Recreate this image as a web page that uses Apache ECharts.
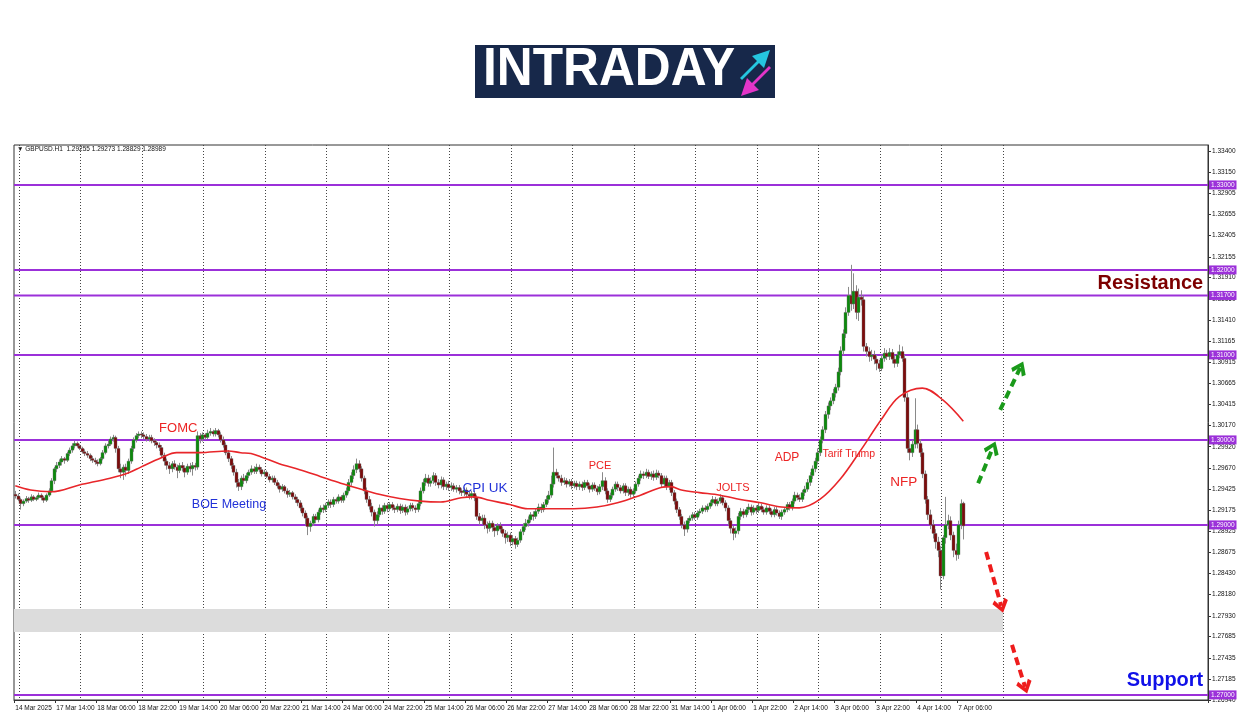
<!DOCTYPE html>
<html><head><meta charset="utf-8">
<script src="https://cdn.jsdelivr.net/npm/echarts@6/dist/echarts.min.js"></script>
<style>html,body{margin:0;padding:0;background:#fff}#c{width:1250px;height:716px}</style>
</head><body><div id="c"></div>
<script>
// Prices in pips: value v means 1 + v/10000 (e.g. 2934 -> 1.2934)
const opens = [
2936,2934,2930,2925,2928,2931,2929,2933,2930,2932,
2935,2932,2929,2935,2940,2952,2966,2970,2974,2978,
2976,2984,2988,2993,2996,2993,2990,2986,2984,2982,
2978,2976,2974,2972,2978,2985,2993,2995,3001,3003,
2990,2966,2962,2968,2964,2975,2990,3000,3005,3007,
3006,3004,3001,3003,2999,2997,2994,2991,2982,2975,
2970,2966,2972,2968,2964,2970,2967,2962,2969,2966,
2970,2968,3005,3001,3006,3003,3008,3010,3007,3011,
3006,3000,2994,2985,2978,2970,2962,2950,2945,2955,
2952,2958,2962,2966,2963,2968,2965,2960,2962,2957,
2953,2955,2950,2946,2942,2945,2940,2936,2938,2933,
2930,2926,2920,2914,2908,2898,2902,2910,2906,2915,
2920,2918,2923,2927,2924,2930,2928,2933,2929,2935,
2940,2950,2958,2965,2972,2966,2955,2940,2930,2922,
2915,2905,2912,2920,2916,2923,2919,2924,2920,2918,
2922,2917,2921,2915,2919,2923,2920,2918,2925,2940,
2950,2955,2949,2952,2958,2950,2947,2953,2945,2948,
2944,2946,2942,2944,2940,2938,2941,2936,2934,2937,
2932,2910,2905,2908,2900,2896,2902,2897,2893,2899,
2895,2890,2885,2888,2880,2884,2877,2882,2892,2898,
2902,2906,2912,2910,2916,2921,2918,2924,2930,2935,
2948,2962,2958,2955,2950,2952,2948,2951,2946,2949,
2945,2948,2944,2950,2946,2942,2947,2943,2939,2945,
2952,2940,2930,2935,2942,2948,2944,2940,2946,2938,
2942,2936,2940,2948,2955,2960,2958,2962,2957,2960,
2956,2961,2958,2948,2955,2945,2950,2938,2928,2918,
2910,2900,2895,2905,2908,2912,2909,2914,2916,2920,
2918,2922,2926,2930,2925,2928,2932,2926,2920,2905,
2896,2890,2893,2910,2916,2912,2918,2921,2915,2920,
2917,2922,2918,2915,2920,2916,2912,2918,2914,2910,
2915,2918,2924,2920,2928,2935,2932,2930,2938,2942,
2950,2958,2966,2975,2985,3000,3012,3030,3040,3046,
3055,3062,3080,3105,3125,3150,3170,3160,3175,3150,
3168,3165,3110,3104,3098,3100,3095,3090,3084,3096,
3102,3098,3103,3095,3090,3100,3104,3096,3050,2990,
2985,2995,3012,2996,2985,2960,2930,2912,2900,2890,
2880,2870,2840,2885,2900,2905,2888,2870,2865,2900,2925.5];
const highs = [
2940,2937,2932,2930,2934,2933,2936,2935,2934,2938,
2937,2934,2937,2943,2955,2968,2974,2977,2981,2980,
2986,2991,2996,2999,2998,2995,2992,2989,2987,2984,
2981,2979,2977,2980,2988,2996,2999,3004,3006,3005,
2993,2972,2971,2972,2978,2993,3003,3008,3010,3010,
3009,3007,3006,3006,3002,3000,2997,2994,2985,2978,
2974,2975,2976,2971,2973,2974,2970,2972,2973,2974,
2973,3010,3008,3009,3008,3012,3014,3012,3014,3013,
3009,3004,2997,2988,2981,2973,2966,2954,2958,2960,
2961,2965,2970,2969,2972,2971,2968,2965,2964,2960,
2958,2958,2953,2949,2948,2947,2943,2941,2940,2936,
2933,2929,2923,2917,2911,2905,2913,2913,2918,2923,
2924,2926,2930,2930,2933,2932,2936,2935,2938,2944,
2954,2962,2970,2978,2976,2969,2958,2944,2934,2926,
2918,2916,2924,2923,2926,2926,2927,2927,2923,2925,
2925,2924,2924,2922,2926,2926,2923,2928,2944,2954,
2960,2959,2956,2962,2961,2954,2957,2956,2951,2952,
2950,2949,2947,2947,2943,2944,2944,2939,2940,2940,
2935,2914,2912,2912,2904,2905,2905,2901,2902,2903,
2898,2894,2892,2891,2888,2887,2885,2895,2902,2907,
2910,2915,2916,2919,2925,2925,2927,2934,2940,2958,
2991,2966,2962,2959,2956,2955,2954,2954,2952,2952,
2951,2951,2953,2953,2949,2950,2950,2946,2948,2962,
2956,2943,2938,2945,2951,2951,2947,2949,2949,2945,
2945,2943,2951,2958,2964,2963,2966,2965,2963,2964,
2965,2964,2961,2958,2958,2953,2953,2941,2931,2921,
2913,2904,2908,2911,2915,2915,2917,2919,2923,2923,
2925,2929,2934,2933,2931,2936,2935,2929,2923,2908,
2899,2897,2914,2920,2919,2921,2925,2924,2923,2923,
2926,2925,2921,2923,2923,2919,2921,2921,2917,2918,
2921,2927,2927,2931,2939,2938,2936,2941,2946,2954,
2962,2970,2979,2990,3004,3016,3034,3044,3050,3060,
3066,3085,3110,3130,3156,3180,3206,3196,3182,3178,
3176,3170,3114,3109,3106,3105,3100,3094,3100,3108,
3106,3108,3107,3099,3104,3112,3110,3100,3055,3000,
3000,3049,3018,3001,2990,2964,2934,2918,2906,2895,
2886,2875,2888,2933,2912,2910,2892,2878,2905,2930,2927.3];
const lows = [
2931,2928,2918,2922,2926,2926,2927,2928,2928,2930,
2929,2926,2927,2933,2938,2948,2962,2967,2970,2972,
2974,2981,2985,2990,2991,2988,2984,2981,2979,2975,
2973,2971,2969,2970,2976,2983,2990,2993,2998,2985,
2962,2955,2953,2957,2960,2972,2986,2997,3002,3002,
3001,2998,2998,2996,2993,2990,2987,2979,2970,2965,
2960,2962,2965,2955,2961,2963,2956,2959,2962,2958,
2964,2965,2996,2998,3000,3001,3005,3004,3004,3003,
2997,2991,2982,2974,2966,2958,2944,2940,2941,2948,
2949,2955,2959,2960,2960,2962,2957,2957,2955,2950,
2950,2947,2943,2938,2939,2937,2932,2933,2930,2926,
2922,2916,2910,2900,2888,2892,2899,2902,2903,2912,
2914,2915,2920,2920,2921,2925,2925,2926,2926,2932,
2937,2946,2954,2961,2962,2951,2936,2926,2918,2910,
2898,2900,2909,2912,2913,2915,2916,2917,2914,2915,
2913,2914,2911,2912,2916,2916,2914,2915,2922,2937,
2946,2945,2945,2948,2946,2943,2943,2941,2941,2940,
2940,2939,2938,2936,2934,2934,2932,2930,2930,2928,
2906,2900,2901,2895,2890,2892,2892,2886,2888,2891,
2886,2878,2880,2875,2876,2872,2874,2879,2888,2894,
2898,2903,2905,2907,2913,2914,2915,2921,2926,2932,
2944,2955,2951,2946,2947,2944,2945,2942,2943,2941,
2941,2940,2941,2943,2938,2939,2940,2935,2936,2941,
2936,2926,2927,2932,2939,2940,2937,2937,2934,2934,
2932,2933,2937,2945,2952,2954,2955,2954,2953,2952,
2953,2955,2944,2945,2941,2941,2934,2924,2914,2906,
2896,2887,2891,2902,2905,2906,2906,2911,2913,2915,
2915,2919,2923,2922,2922,2925,2923,2916,2900,2890,
2882,2885,2889,2906,2908,2909,2914,2911,2912,2913,
2914,2915,2912,2912,2913,2909,2909,2911,2907,2906,
2912,2915,2917,2917,2925,2929,2927,2927,2934,2939,
2946,2954,2962,2971,2981,2996,3008,3025,3035,3042,
3050,3058,3076,3100,3120,3146,3152,3154,3142,3140,
3158,3104,3098,3092,3093,3089,3082,3080,3081,3092,
3094,3094,3090,3085,3086,3096,3092,3045,2985,2976,
2980,2990,2990,2980,2955,2925,2906,2895,2884,2872,
2862,2824,2836,2878,2895,2882,2862,2858,2860,2895,2882.9];
const closes = [
2934,2930,2925,2928,2931,2929,2933,2930,2932,2935,
2932,2929,2935,2940,2952,2966,2970,2974,2978,2976,
2984,2988,2993,2996,2993,2990,2986,2984,2982,2978,
2976,2974,2972,2978,2985,2993,2995,3001,3003,2990,
2966,2962,2968,2964,2975,2990,3000,3005,3007,3006,
3004,3001,3003,2999,2997,2994,2991,2982,2975,2970,
2966,2972,2968,2964,2970,2967,2962,2969,2966,2970,
2968,3005,3001,3006,3003,3008,3010,3007,3011,3006,
3000,2994,2985,2978,2970,2962,2950,2945,2955,2952,
2958,2962,2966,2963,2968,2965,2960,2962,2957,2953,
2955,2950,2946,2942,2945,2940,2936,2938,2933,2930,
2926,2920,2914,2908,2898,2902,2910,2906,2915,2920,
2918,2923,2927,2924,2930,2928,2933,2929,2935,2940,
2950,2958,2965,2972,2966,2955,2940,2930,2922,2915,
2905,2912,2920,2916,2923,2919,2924,2920,2918,2922,
2917,2921,2915,2919,2923,2920,2918,2925,2940,2950,
2955,2949,2952,2958,2950,2947,2953,2945,2948,2944,
2946,2942,2944,2940,2938,2941,2936,2934,2937,2932,
2910,2905,2908,2900,2896,2902,2897,2893,2899,2895,
2890,2885,2888,2880,2884,2877,2882,2892,2898,2902,
2906,2912,2910,2916,2921,2918,2924,2930,2935,2948,
2962,2958,2955,2950,2952,2948,2951,2946,2949,2945,
2948,2944,2950,2946,2942,2947,2943,2939,2945,2952,
2940,2930,2935,2942,2948,2944,2940,2946,2938,2942,
2936,2940,2948,2955,2960,2958,2962,2957,2960,2956,
2961,2958,2948,2955,2945,2950,2938,2928,2918,2910,
2900,2895,2905,2908,2912,2909,2914,2916,2920,2918,
2922,2926,2930,2925,2928,2932,2926,2920,2905,2896,
2890,2893,2910,2916,2912,2918,2921,2915,2920,2917,
2922,2918,2915,2920,2916,2912,2918,2914,2910,2915,
2918,2924,2920,2928,2935,2932,2930,2938,2942,2950,
2958,2966,2975,2985,3000,3012,3030,3040,3046,3055,
3062,3080,3105,3125,3150,3170,3160,3175,3150,3168,
3165,3110,3104,3098,3100,3095,3090,3084,3096,3102,
3098,3103,3095,3090,3100,3104,3096,3050,2990,2985,
2995,3012,2996,2985,2960,2930,2912,2900,2890,2880,
2870,2840,2885,2900,2905,2888,2870,2865,2900,2925,2898.9];

// moving average: bar index -> pips
const maBars   = [0,6,14,25,37,44,49,57,63,72,83,88,92,96,103,111,119,127,135,142,150,158,166,174,179,185,193,200,209,218,227,235,244,252,256,260,267,275,283,291,299,306,314,322,330,338,345,354,362,370];
const maValues = [2946,2941,2939,2947,2955,2961,2968,2979,2985,2985,2987,2985,2984,2980,2972,2965,2957,2949,2942,2936,2931,2928,2927,2932,2933,2929,2924,2919,2919,2919,2921,2926,2935,2944,2945,2941,2938,2935,2930,2926,2921,2920,2930,2954,2988,3024,3051,3061,3047,3022];

const xTickLabels = ["14 Mar 2025","17 Mar 14:00","18 Mar 06:00","18 Mar 22:00","19 Mar 14:00","20 Mar 06:00","20 Mar 22:00","21 Mar 14:00","24 Mar 06:00","24 Mar 22:00","25 Mar 14:00","26 Mar 06:00","26 Mar 22:00","27 Mar 14:00","28 Mar 06:00","28 Mar 22:00","31 Mar 14:00","1 Apr 06:00","1 Apr 22:00","2 Apr 14:00","3 Apr 06:00","3 Apr 22:00","4 Apr 14:00","7 Apr 06:00"];
const yTickValues = [1.334,1.3315,1.32905,1.32655,1.32405,1.32155,1.3191,1.3166,1.3141,1.31165,1.30915,1.30665,1.30415,1.3017,1.2992,1.2967,1.29425,1.29175,1.28925,1.28675,1.2843,1.2818,1.2793,1.27685,1.27435,1.27185,1.2694];
const levelPrices = [1.33,1.32,1.317,1.31,1.30,1.29,1.27];
const zoneBand = [1.28012, 1.27741];
const zoneEndBar = 385;
// annotations: [bar, price, text, size]
const redNotes  = [[63.6,1.30141,"FOMC",13],[228.2,1.29694,"PCE",11],[280.1,1.29435,"JOLTS",11],[301.2,1.29788,"ADP",12],[325.3,1.29835,"Tarif Trump",10.5],[346.8,1.29506,"NFP",13.5]];
const blueNotes = [[83.4,1.29235,"BOE Meeting",12.5],[183.3,1.29435,"CPI UK",13.5]];
const upArrows   = [[[375.8,1.2949],[381.5,1.29906]],[[384.4,1.30353],[392.2,1.30847]]];
const downArrows = [[[378.9,1.28682],[384.8,1.28047]],[[389,1.27588],[394.1,1.27094]]];
const TOTAL_SLOTS = 466;
const headerText = "\u25BC GBPUSD.H1  1.29255 1.29273 1.28829 1.28989";

const P = v => 1 + v / 10000;
const candleData = closes.map((c, i) => [i, P(opens[i]), P(c), P(lows[i]), P(highs[i])]);
const categories = Array.from({length: TOTAL_SLOTS}, (_, i) => String(i));
const maData = maBars.map((b, k) => [b, P(maValues[k])]);
const PURPLE = '#9b30d9';
const FONT = 'Liberation Sans';
const chevron = 'path://M0,0 L11,11 L7,14 L0,6 L-7,14 L-11,11 Z';

const levelSeries = levelPrices.map(p => ({
  type: 'line', xAxisIndex: 1, data: [[-0.5, p], [TOTAL_SLOTS - 0.5, p]], showSymbol: false, silent: true,
  lineStyle: {color: PURPLE, width: 2}, z: 2,
  endLabel: {show: true, formatter: p.toFixed(5), color: '#fff', backgroundColor: PURPLE,
             fontSize: 6.5, padding: [1, 2, 1, 2], distance: 1, fontFamily: FONT}
}));

const chart = echarts.init(document.getElementById('c'), null, {renderer: 'canvas'});
chart.setOption({
  animation: false,
  backgroundColor: '#ffffff',
  textStyle: {fontFamily: FONT},
  grid: {left: 14, right: 42, top: 145, bottom: 16, show: true, borderColor: '#333', borderWidth: 1, backgroundColor: '#fff'},
  xAxis: [{
    type: 'category', data: categories, boundaryGap: true,
    axisLine: {show: true, onZero: false, lineStyle: {color: '#333', width: 1}},
    axisTick: {show: true, length: 3, interval: i => i % 16 === 0 && i / 16 < xTickLabels.length, lineStyle: {color: '#333'}},
    axisLabel: {show: true, interval: i => i % 16 === 0 && i / 16 < xTickLabels.length,
      formatter: (v, i) => xTickLabels[i / 16] || '', align: 'left', fontSize: 6.5, color: '#111', margin: 5, fontFamily: FONT},
    splitLine: {show: true, interval: i => i % 24 === 2 && i <= 386, lineStyle: {color: '#444', type: [1, 2], width: 1}}
  }, {
    type: 'value', min: -0.5, max: TOTAL_SLOTS - 0.5, show: false
  }],
  yAxis: {
    type: 'value', position: 'right', min: 1.2694, max: 1.3347, scale: true,
    axisLine: {show: true, onZero: false, lineStyle: {color: '#333'}},
    axisTick: {show: true, length: 3, customValues: yTickValues, lineStyle: {color: '#333'}},
    axisLabel: {show: true, customValues: yTickValues, formatter: v => v.toFixed(5), fontSize: 6.5, color: '#111', margin: 4, fontFamily: FONT},
    splitLine: {show: false}
  },
  graphic: [
    {type: 'rect', shape: {x: 475, y: 45, width: 300, height: 53}, style: {fill: '#17284a'}},
    {type: 'text', x: 483, y: 43, scaleX: 0.92, style: {text: 'INTRADAY', fill: '#ffffff', font: 'bold 54px "Liberation Sans"'}},
    {type: 'polygon', shape: {points: [[740,78],[757,61],[752,56],[770,50],[764,68],[759,63],[742,80]]}, style: {fill: '#25c6e0'}},
    {type: 'polygon', shape: {points: [[771,68],[754,85],[759,90],[741,96],[747,78],[752,83],[769,66]]}, style: {fill: '#e335c8'}},
    {type: 'text', x: 17, y: 146, style: {text: headerText, fill: '#111', font: '6.5px "Liberation Sans"'}}
  ],
  series: levelSeries.concat([
    {
      type: 'custom', name: 'GBPUSD', xAxisIndex: 0,
      data: candleData,
      encode: {x: 0, y: [1, 2, 3, 4]},
      renderItem: (params, api) => {
        const i = api.value(0), o = api.value(1), c = api.value(2), l = api.value(3), h = api.value(4);
        const pO = api.coord([i, o]), pC = api.coord([i, c]), pL = api.coord([i, l]), pH = api.coord([i, h]);
        const x = Math.round(pO[0]) + 0.5;
        const top = Math.min(pO[1], pC[1]), bot = Math.max(pO[1], pC[1]);
        const bull = c >= o;
        return {type: 'group', children: [
          {type: 'line', shape: {x1: x, y1: pH[1], x2: x, y2: pL[1]}, style: {stroke: '#8a8a8a', lineWidth: 1}},
          {type: 'rect', shape: {x: x - 1.5, y: top, width: 3, height: Math.max(1, bot - top)},
           style: {fill: bull ? '#0c8a0c' : '#7c0c0c', stroke: '#6d6d6d', lineWidth: 0.4}}
        ]};
      },
      z: 3
    },
    {
      type: 'line', name: 'MA', xAxisIndex: 1, data: maData, smooth: 0.35, showSymbol: false,
      lineStyle: {color: '#e8262a', width: 1.6}, z: 4,
      markArea: {
        silent: true, itemStyle: {color: '#dcdcdc'},
        data: [[{xAxis: -0.5, yAxis: zoneBand[0]}, {xAxis: zoneEndBar + 0.5, yAxis: zoneBand[1]}]]
      }
    },
    {
      type: 'line', name: 'notes', xAxisIndex: 1, data: [], z: 6,
      markPoint: {
        silent: true, symbol: 'circle', symbolSize: 1, itemStyle: {color: 'rgba(0,0,0,0)'},
        data: redNotes.map(n => ({coord: [n[0], n[1]], label: {show: true, position: 'inside', formatter: n[2], color: '#ec2424', fontSize: n[3], fontFamily: FONT}}))
          .concat(blueNotes.map(n => ({coord: [n[0], n[1]], label: {show: true, position: 'inside', formatter: n[2], color: '#2131d8', fontSize: n[3], fontFamily: FONT}})))
          .concat([
            {coord: [443, 1.31835], label: {show: true, position: 'inside', formatter: 'Resistance', color: '#7d0000', fontSize: 20, fontWeight: 'bold', fontFamily: FONT}},
            {coord: [448.7, 1.27165], label: {show: true, position: 'inside', formatter: 'Support', color: '#1010e8', fontSize: 20, fontWeight: 'bold', fontFamily: FONT}}
          ])
      },
      markLine: {
        silent: true, symbol: ['none', chevron], symbolSize: [16, 14],
        label: {show: false},
        data: upArrows.map(a => [{coord: a[0], lineStyle: {color: '#1a9a1a', width: 4, type: [8, 5]}}, {coord: a[1]}])
          .concat(downArrows.map(a => [{coord: a[0], lineStyle: {color: '#ee1c1c', width: 4, type: [8, 5]}}, {coord: a[1]}]))
      }
    }
  ])
});
</script>
</body></html>
